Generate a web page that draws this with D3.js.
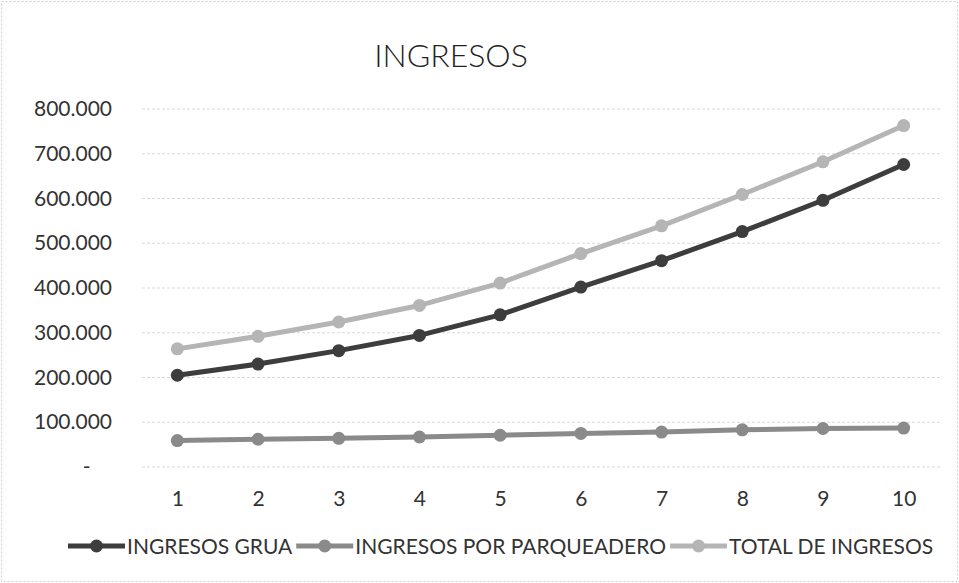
<!DOCTYPE html>
<html><head><meta charset="utf-8">
<script src="https://cdn.jsdelivr.net/npm/d3@7"></script>
<style>body{margin:0;background:#fff}svg{display:block}text{font-family:Lato,"Open Sans",sans-serif}</style>
</head><body>
<svg id="c" width="959" height="583"></svg>
<script>
const title = "INGRESOS";
const categories = ["1","2","3","4","5","6","7","8","9","10"];
const seriesNames = ["INGRESOS GRUA","INGRESOS POR PARQUEADERO","TOTAL DE INGRESOS"];
const ingresosGrua = [205000,230000,260000,294000,340000,402000,461000,526000,596000,676000];
const ingresosParqueadero = [59000,62000,64000,67000,71000,75000,78000,83000,86000,87000];
const totalIngresos = [264000,292000,324000,361000,411000,477000,539000,609000,682000,763000];
const yTicks = [0,100000,200000,300000,400000,500000,600000,700000,800000];
const colors = ["#3d3d3d","#8a8a8a","#b5b5b5"];

const svg = d3.select("#c");
const W = 959, H = 583;
const plot = {left:137, right:944, top:109, bottom:467};

svg.append("rect").attr("x",1.5).attr("y",1.5).attr("width",W-3).attr("height",H-3)
  .attr("fill","#fff").attr("stroke","#cfcfcf").attr("stroke-dasharray","2,2");

const x = d3.scalePoint().domain(categories).range([plot.left, plot.right]).padding(0.5);
const y = d3.scaleLinear().domain([0,800000]).range([plot.bottom, plot.top]);

const loc = d3.formatLocale({decimal:",", thousands:".", grouping:[3], currency:["$",""]});
const fmt = loc.format(",.0f");

// gridlines
svg.append("g").selectAll("line").data(yTicks).join("line")
  .attr("x1",plot.left+5).attr("x2",plot.right-2)
  .attr("y1",d=>y(d)).attr("y2",d=>y(d))
  .attr("stroke","#d9d9d9").attr("stroke-width",1).attr("stroke-dasharray","3,2");

// y axis
const yAxis = d3.axisLeft(y).tickValues(yTicks).tickSize(0).tickPadding(0)
  .tickFormat(d => d===0 ? "-    " : fmt(d));
const gy = svg.append("g").attr("transform","translate(112,0)").call(yAxis);
gy.select(".domain").remove();
gy.selectAll("text").attr("font-size",21).attr("fill","#333").attr("font-family","Lato,'Open Sans',sans-serif").style("white-space","pre").attr("xml:space","preserve");

// x axis
const xAxis = d3.axisBottom(x).tickSize(0).tickPadding(0);
const gx = svg.append("g").attr("transform","translate(0,491)").call(xAxis);
gx.select(".domain").remove();
gx.selectAll("text").attr("font-size",21).attr("fill","#333").attr("font-family","Lato,'Open Sans',sans-serif");

// title
svg.append("text").attr("x",451).attr("y",67).attr("text-anchor","middle")
  .attr("font-size",32).attr("font-weight",300).attr("fill","#222").text(title);

const data = [ingresosGrua, ingresosParqueadero, totalIngresos];
const line = d3.line().x((d,i)=>x(categories[i])).y(d=>y(d));
// draw order: parq, total, grua on top
[1,2,0].forEach(k=>{
  const g = svg.append("g");
  g.append("path").datum(data[k]).attr("d",line).attr("fill","none")
    .attr("stroke",colors[k]).attr("stroke-width",5).attr("stroke-linejoin","round");
  g.selectAll("circle").data(data[k]).join("circle")
    .attr("cx",(d,i)=>x(categories[i])).attr("cy",d=>y(d)).attr("r",6.5)
    .attr("fill",colors[k]);
});

// legend
const leg = svg.append("g").attr("transform","translate(0,546)");
let lx = 68;
seriesNames.forEach((name,k)=>{
  leg.append("line").attr("x1",lx).attr("x2",lx+57).attr("y1",0).attr("y2",0)
    .attr("stroke",colors[k]).attr("stroke-width",5);
  leg.append("circle").attr("cx",lx+28.5).attr("cy",0).attr("r",6.5).attr("fill",colors[k]);
  const t = leg.append("text").attr("x",lx+59).attr("y",7.5).attr("font-size",21)
    .attr("fill","#333").text(name);
  lx += 59 + t.node().getComputedTextLength() + 4;
});
</script>
</body></html>
